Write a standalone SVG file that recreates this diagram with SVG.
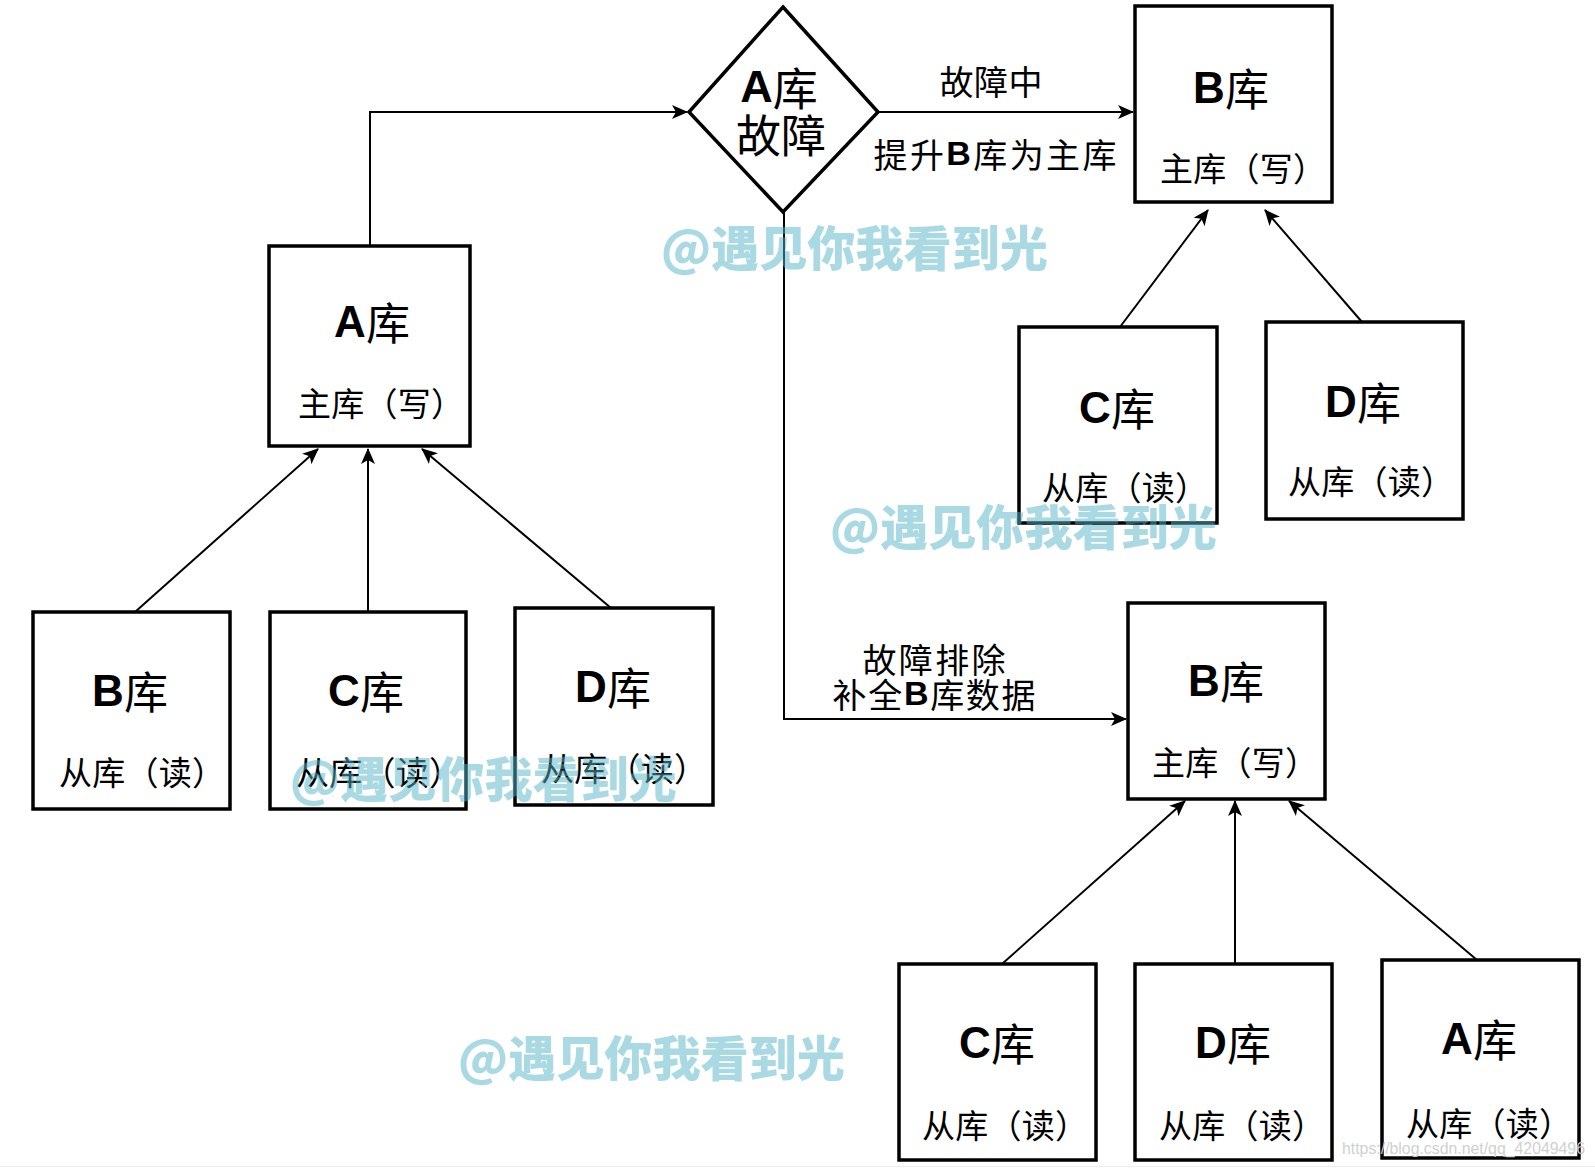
<svg xmlns="http://www.w3.org/2000/svg" width="1595" height="1168" viewBox="0 0 1595 1168">
<style>
.box{fill:#fff;stroke:#000;stroke-width:3.5}
.t{font-family:"Liberation Sans","Noto Sans CJK SC",sans-serif;fill:#000;text-anchor:middle;dominant-baseline:central}
.title{font-size:44px}
.sub{font-size:33px;font-family:"Noto Sans CJK SC",sans-serif}
.b{font-weight:bold;font-family:"Liberation Sans",sans-serif}
.k{font-family:"Noto Sans CJK SC",sans-serif}
.lbl{font-size:34px}
.conn{fill:none;stroke:#000;stroke-width:2}
.wm{font-family:"Noto Sans CJK SC",sans-serif;font-weight:900;font-size:48px;fill:#55b5c8;opacity:0.5;dominant-baseline:central}
</style>
<defs>
<marker id="arr" markerUnits="userSpaceOnUse" markerWidth="16" markerHeight="14" viewBox="0 0 16 14" refX="15" refY="7" orient="auto">
<path d="M0,0 L16,7 L0,14 L4,7 Z" fill="#000"/>
</marker>
</defs>
<rect width="1595" height="1168" fill="#fff"/>
<line x1="0" y1="1166.5" x2="1595" y2="1166.5" stroke="#eeeeee" stroke-width="1"/>

<g id="connectors">
<path class="conn" d="M370,246 V112 H687" marker-end="url(#arr)"/>
<path class="conn" d="M878,112 H1133" marker-end="url(#arr)"/>
<path class="conn" d="M784,212 V719 H1126" marker-end="url(#arr)"/>
<path class="conn" d="M135,612 L318,449" marker-end="url(#arr)"/>
<path class="conn" d="M368,612 V449" marker-end="url(#arr)"/>
<path class="conn" d="M611,608 L422,449" marker-end="url(#arr)"/>
<path class="conn" d="M1120,327 L1208,210" marker-end="url(#arr)"/>
<path class="conn" d="M1362,322 L1265,210" marker-end="url(#arr)"/>
<path class="conn" d="M1002,964 L1185,801" marker-end="url(#arr)"/>
<path class="conn" d="M1235,964 V801" marker-end="url(#arr)"/>
<path class="conn" d="M1477,960 L1289,801" marker-end="url(#arr)"/>
<text class="t lbl k" x="991" y="80" textLength="103" lengthAdjust="spacing">故障中</text>
<text class="t lbl" x="995" y="153" textLength="243" lengthAdjust="spacing"><tspan class="k">提升</tspan><tspan class="b">B</tspan><tspan class="k">库为主库</tspan></text>
<text class="t lbl k" x="934" y="658" textLength="143" lengthAdjust="spacing">故障排除</text>
<text class="t lbl" x="934" y="693" textLength="203" lengthAdjust="spacing"><tspan class="k">补全</tspan><tspan class="b">B</tspan><tspan class="k">库数据</tspan></text>
</g>

<g id="node-diamond">
<polygon points="783,7 878,112 783,212 689,112" fill="#fff" stroke="#000" stroke-width="3.5"/>
<text class="t" style="font-size:45px" x="779" y="86"><tspan class="b">A</tspan><tspan class="k">库</tspan></text>
<text class="t k" style="font-size:45px" x="781" y="133">故障</text>
</g>

<g id="node-A-main">
<rect class="box" x="269" y="246" width="201" height="200"/>
<text class="t title" x="372" y="321"><tspan class="b">A</tspan><tspan class="k">库</tspan></text>
<text class="t sub" x="381" y="402" textLength="166" lengthAdjust="spacing">主库（写）</text>
</g>

<g id="node-B-top">
<rect class="box" x="1135" y="6" width="197" height="196"/>
<text class="t title" x="1231" y="87"><tspan class="b">B</tspan><tspan class="k">库</tspan></text>
<text class="t sub" x="1243" y="167" textLength="166" lengthAdjust="spacing">主库（写）</text>
</g>

<g id="node-C-top">
<rect class="box" x="1019" y="327" width="198" height="196"/>
<text class="t title" x="1117" y="407"><tspan class="b">C</tspan><tspan class="k">库</tspan></text>
<text class="t sub" x="1125" y="486" textLength="166" lengthAdjust="spacing">从库（读）</text>
</g>

<g id="node-D-top">
<rect class="box" x="1266" y="322" width="197" height="197"/>
<text class="t title" x="1363" y="401"><tspan class="b">D</tspan><tspan class="k">库</tspan></text>
<text class="t sub" x="1371" y="480" textLength="166" lengthAdjust="spacing">从库（读）</text>
</g>

<g id="node-B-left">
<rect class="box" x="33" y="612" width="197" height="197"/>
<text class="t title" x="130" y="690"><tspan class="b">B</tspan><tspan class="k">库</tspan></text>
<text class="t sub" x="142" y="771" textLength="166" lengthAdjust="spacing">从库（读）</text>
</g>

<g id="node-C-left">
<rect class="box" x="270" y="612" width="196" height="197"/>
<text class="t title" x="366" y="690"><tspan class="b">C</tspan><tspan class="k">库</tspan></text>
<text class="t sub" x="379" y="771" textLength="166" lengthAdjust="spacing">从库（读）</text>
</g>

<g id="node-D-left">
<rect class="box" x="515" y="608" width="198" height="197"/>
<text class="t title" x="613" y="686"><tspan class="b">D</tspan><tspan class="k">库</tspan></text>
<text class="t sub" x="624" y="767" textLength="166" lengthAdjust="spacing">从库（读）</text>
</g>

<g id="node-B-bottom">
<rect class="box" x="1128" y="603" width="197" height="196"/>
<text class="t title" x="1226" y="680"><tspan class="b">B</tspan><tspan class="k">库</tspan></text>
<text class="t sub" x="1235" y="761" textLength="166" lengthAdjust="spacing">主库（写）</text>
</g>

<g id="node-C-bottom">
<rect class="box" x="899" y="964" width="197" height="196"/>
<text class="t title" x="997" y="1042"><tspan class="b">C</tspan><tspan class="k">库</tspan></text>
<text class="t sub" x="1005" y="1124" textLength="166" lengthAdjust="spacing">从库（读）</text>
</g>

<g id="node-D-bottom">
<rect class="box" x="1135" y="964" width="197" height="196"/>
<text class="t title" x="1233" y="1042"><tspan class="b">D</tspan><tspan class="k">库</tspan></text>
<text class="t sub" x="1242" y="1124" textLength="166" lengthAdjust="spacing">从库（读）</text>
</g>

<g id="node-A-bottom">
<rect class="box" x="1382" y="960" width="197" height="198"/>
<text class="t title" x="1479" y="1038"><tspan class="b">A</tspan><tspan class="k">库</tspan></text>
<text class="t sub" x="1489" y="1122" textLength="166" lengthAdjust="spacing">从库（读）</text>
</g>

<g id="watermarks">
<text class="wm" x="661" y="245" textLength="387" lengthAdjust="spacingAndGlyphs">@遇见你我看到光</text>
<text class="wm" x="830" y="524" textLength="387" lengthAdjust="spacingAndGlyphs">@遇见你我看到光</text>
<text class="wm" x="290" y="776" textLength="387" lengthAdjust="spacingAndGlyphs">@遇见你我看到光</text>
<text class="wm" x="458" y="1055" textLength="387" lengthAdjust="spacingAndGlyphs">@遇见你我看到光</text>
<text x="1342" y="1154" font-family="Liberation Sans, sans-serif" font-size="17" fill="#d0d0d0" textLength="243" lengthAdjust="spacingAndGlyphs">https://blog.csdn.net/qq_42049496</text>
</g>
</svg>
